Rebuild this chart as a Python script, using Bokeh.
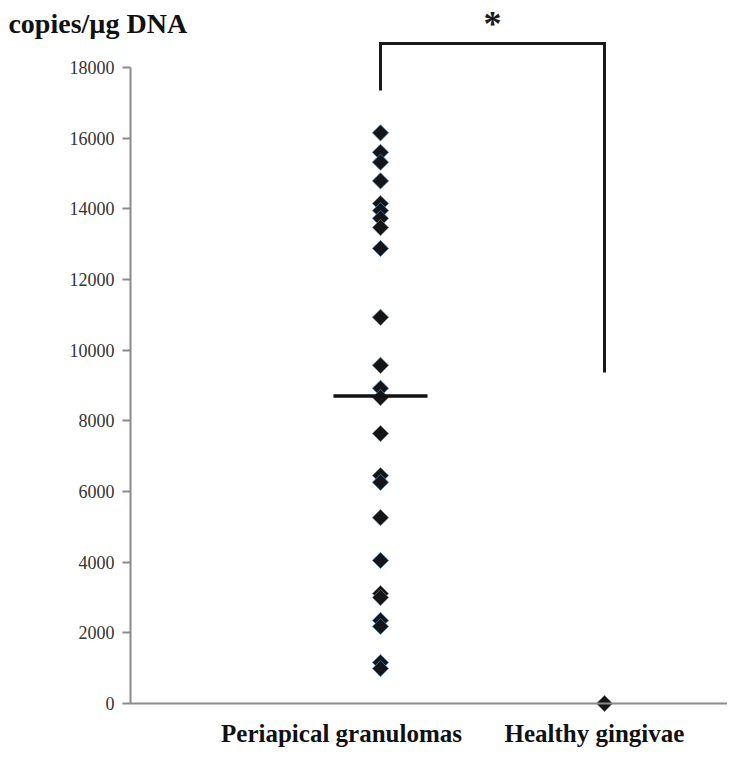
import numpy as np
from bokeh.plotting import figure
from bokeh.models import Range1d, Label, FixedTicker
from bokeh.embed import file_html
from bokeh.resources import INLINE

# ---- data ----
categories = ["Periapical granulomas", "Healthy gingivae"]
cat_positions = [1, 2]
granuloma_values = [16150, 15600, 15320, 14790, 14150, 13950, 13730, 13470, 12880,
                    10930, 9570, 8920, 8660, 7640, 6450, 6260, 5260, 4050, 3110,
                    3000, 2350, 2180, 1160, 990]
gingivae_values = [0]
mean_value = 8700
y_ticks = [0, 2000, 4000, 6000, 8000, 10000, 12000, 14000, 16000, 18000]
bracket_top = 18680
bracket_left_end = 17350
bracket_right_end = 9370
significance = "*"
y_title = "copies/\u00b5g DNA"

# ---- layout (positions in data units of the plot) ----
X_START, X_END = -0.6964, 2.5491
Y_START, Y_END = -1302, 19896
AXIS_X = -0.1161           # where the vertical axis is drawn
LABEL_X = [0.826, 1.955]   # centres of the category labels
LABEL_Y = -1230            # bottom edge of the category labels
TITLE_X, TITLE_Y = -0.661, 19250

SERIF = "Liberation Serif"
GRAY = "#8a8a8a"

p = figure(frame_width=727, frame_height=749,
           min_border_left=0, min_border_right=0,
           min_border_top=0, min_border_bottom=0,
           x_range=Range1d(X_START, X_END), y_range=Range1d(Y_START, Y_END),
           output_backend="svg", toolbar_location=None, tools="")
p.outline_line_color = None
p.grid.visible = False
p.background_fill_color = "white"
p.border_fill_color = "white"

ya = p.yaxis[0]
ya.fixed_location = AXIS_X
ya.ticker = FixedTicker(ticks=y_ticks)
ya.bounds = (0, 18000)
ya.axis_line_color = GRAY
ya.axis_line_width = 2
ya.major_tick_line_color = GRAY
ya.major_tick_line_width = 2
ya.major_tick_in = 0
ya.major_tick_out = 8
ya.minor_tick_line_color = None
ya.major_label_standoff = 8
ya.major_label_text_font = SERIF
ya.major_label_text_font_size = "18px"
ya.major_label_text_color = "#333333"

xa = p.xaxis[0]
xa.fixed_location = 0
xa.ticker = FixedTicker(ticks=[])
xa.bounds = (AXIS_X, X_END)
xa.axis_line_color = GRAY
xa.axis_line_width = 2
xa.major_tick_line_color = None
xa.minor_tick_line_color = None
xa.major_label_text_font_size = "0px"

# scatter points
p.scatter([cat_positions[0]] * len(granuloma_values), granuloma_values,
          marker="square", angle=np.pi / 4, size=11.5,
          fill_color="#151515", line_color="#4f86c0", line_width=1, line_alpha=0.7)
p.scatter([cat_positions[1]] * len(gingivae_values), gingivae_values,
          marker="square", angle=np.pi / 4, size=11.5,
          fill_color="#151515", line_color="#4f86c0", line_width=1, line_alpha=0.7)

# mean line
p.line([cat_positions[0] - 0.21, cat_positions[0] + 0.21], [mean_value, mean_value],
       line_color="#111111", line_width=3.5)

# significance bracket
p.line([cat_positions[0], cat_positions[0], cat_positions[1], cat_positions[1]],
       [bracket_left_end, bracket_top, bracket_top, bracket_right_end],
       line_color="#1a1a1a", line_width=3, line_join="miter")
p.add_layout(Label(x=(cat_positions[0] + cat_positions[1]) / 2, y=bracket_top,
                   text=significance, text_font=SERIF, text_font_style="bold",
                   text_font_size="36px", text_align="center",
                   text_baseline="bottom", y_offset=-1, text_color="#1a1a1a"))

# y title
p.add_layout(Label(x=TITLE_X, y=TITLE_Y, text=y_title, text_font=SERIF,
                   text_font_style="bold", text_font_size="28px",
                   text_align="left", text_baseline="alphabetic", text_color="#111111"))

# category labels
for cx, name in zip(LABEL_X, categories):
    p.add_layout(Label(x=cx, y=LABEL_Y, text=name, text_font=SERIF,
                       text_font_style="bold", text_font_size="25px",
                       text_align="center", text_baseline="bottom",
                       text_color="#111111"))

open("out.html", "w").write(file_html(p, INLINE))
